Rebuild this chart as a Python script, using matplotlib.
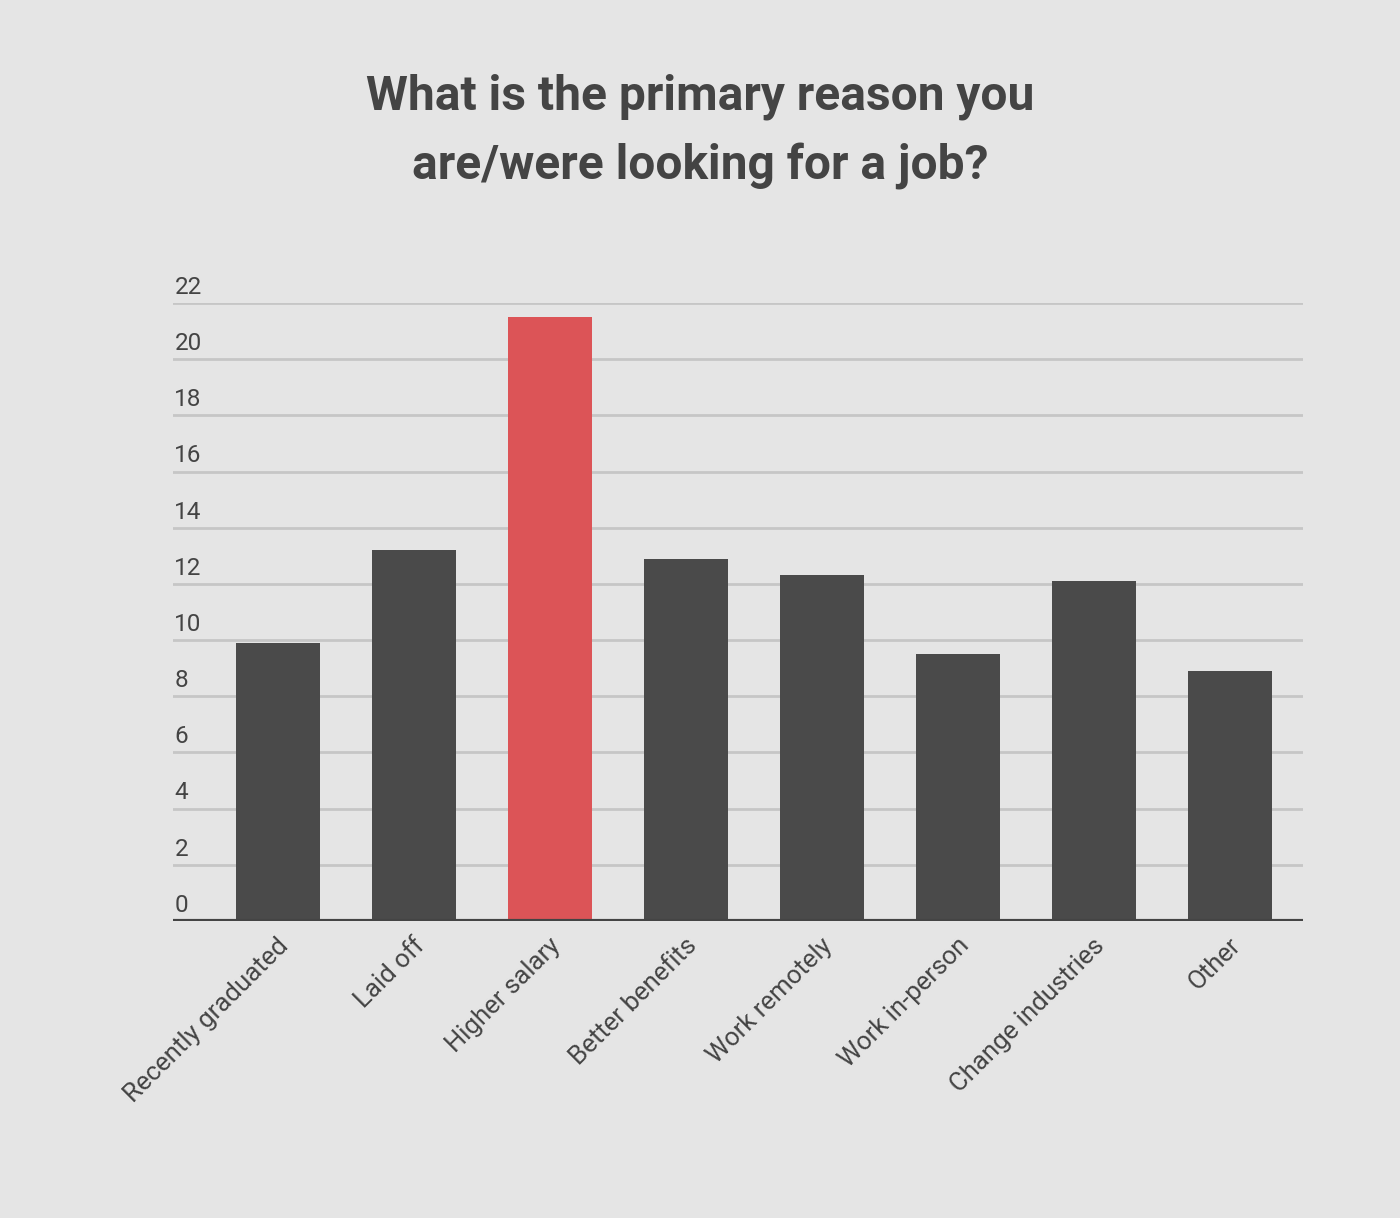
import matplotlib
matplotlib.use("Agg")
from matplotlib import pyplot as plt

plt.rcParams['font.family'] = ['Roboto', 'DejaVu Sans']

# survey answers
categories = ['Recently graduated', 'Laid off', 'Higher salary', 'Better benefits',
              'Work remotely', 'Work in-person', 'Change industries', 'Other']
values = [9.9, 13.2, 21.5, 12.9, 12.3, 9.5, 12.1, 8.9]
highlight = 'Higher salary'
yticks = [0, 2, 4, 6, 8, 10, 12, 14, 16, 18, 20, 22]

BG = '#e5e5e5'
TEXT = '#444444'
BAR = '#4a4a4a'
RED = '#dc5457'
GRID = '#c6c6c6'

fig = plt.figure(figsize=(14, 12.18), dpi=100, facecolor=BG)
ax = fig.add_axes([173 / 1400, 1 - 921 / 1218, 1130 / 1400, 618 / 1218])
ax.set_facecolor(BG)

x = list(range(len(categories)))
colors = [RED if c == highlight else BAR for c in categories]
ax.bar(x, values, width=0.618, color=colors, zorder=3)

ax.set_xlim(-0.772, 7.537)
ax.set_ylim(0, 22)

# gridlines and labels sitting above them
for t in yticks:
    if t > 0:
        ax.axhline(t, color=GRID, lw=2, zorder=1)
    ax.annotate(str(t), xy=(0, t), xycoords=('axes fraction', 'data'),
                xytext=(1, 3), textcoords='offset points',
                ha='left', va='bottom', fontsize=17.5, color=TEXT)
ax.axhline(0, color=TEXT, lw=3, zorder=4)

for s in ax.spines.values():
    s.set_visible(False)
ax.set_xticks([])
ax.set_yticks([])

# rotated category labels
for i, c in zip(x, categories):
    ax.annotate(c, xy=(i, 0), xycoords='data', xytext=(5, -15), textcoords='offset points',
                rotation=45, rotation_mode='anchor', ha='right', va='center',
                fontsize=18.5, color=TEXT)

fig.text(0.5, 1 - 97 / 1218, 'What is the primary reason you', ha='center', va='center',
         fontsize=34.5, fontweight='bold', color=TEXT)
fig.text(0.5, 1 - 166 / 1218, 'are/were looking for a job?', ha='center', va='center',
         fontsize=34.5, fontweight='bold', color=TEXT)

fig.savefig('out.png', dpi=100, facecolor=BG)
